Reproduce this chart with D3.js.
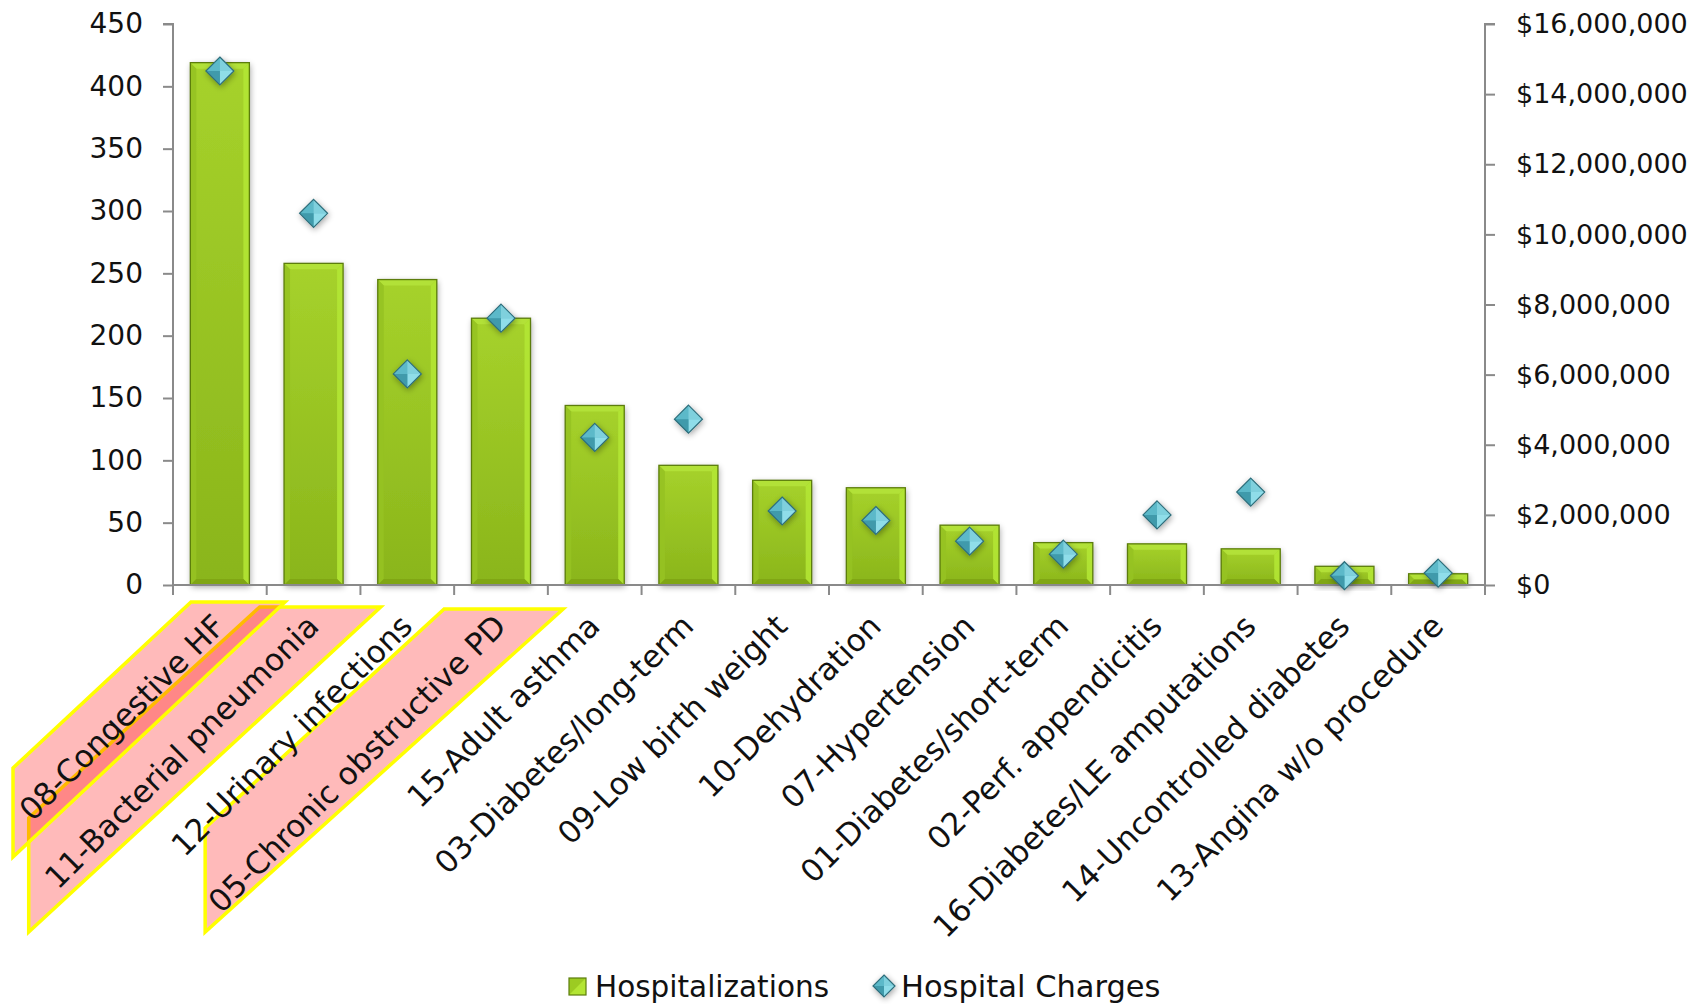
<!DOCTYPE html>
<html>
<head>
<meta charset="utf-8">
<script src="https://cdn.jsdelivr.net/npm/d3@7"></script>
<style>
  html, body { margin: 0; padding: 0; background: #ffffff; }
  svg { display: block; }
  text { font-family: "DejaVu Sans", sans-serif; fill: #111; }
</style>
</head>
<body>
<svg id="chart" width="1706" height="1004"></svg>
<script>
// ---------------- DATA ----------------
const categories = [
  "08-Congestive HF", "11-Bacterial pneumonia", "12-Urinary infections",
  "05-Chronic obstructive PD", "15-Adult asthma", "03-Diabetes/long-term",
  "09-Low birth weight", "10-Dehydration", "07-Hypertension",
  "01-Diabetes/short-term", "02-Perf. appendicitis", "16-Diabetes/LE amputations",
  "14-Uncontrolled diabetes", "13-Angina w/o procedure"
];
const hospitalizations = [419, 258, 245, 214, 144, 96, 84, 78, 48, 34, 33, 29, 15, 9];
const hospitalCharges = [14660000, 10600000, 6020000, 7610000, 4210000, 4730000, 2110000,
                         1840000, 1250000, 880000, 2000000, 2650000, 265000, 340000];
const leftTicks = [0, 50, 100, 150, 200, 250, 300, 350, 400, 450];
const rightTicks = [0, 2000000, 4000000, 6000000, 8000000, 10000000, 12000000, 14000000, 16000000];
const seriesNames = ["Hospitalizations", "Hospital Charges"];
const highlightedCategories = ["11-Bacterial pneumonia", "05-Chronic obstructive PD", "08-Congestive HF"];

// ---------------- LAYOUT ----------------
const svg = d3.select("#chart");
const plot = { left: 173, right: 1485, top: 24, bottom: 585 };

const x = d3.scaleBand().domain(categories).range([plot.left, plot.right]).padding(0);
const yL = d3.scaleLinear().domain([0, 450]).range([plot.bottom, plot.top]);
const yR = d3.scaleLinear().domain([0, 16000000]).range([plot.bottom, plot.top]);
const barW = x.bandwidth() * 0.63;

const defs = svg.append("defs");
const barGrad = defs.append("linearGradient").attr("id", "barGrad")
  .attr("x1", 0).attr("y1", 0).attr("x2", 0).attr("y2", 1);
barGrad.append("stop").attr("offset", "0%").attr("stop-color", "#a6d22b");
barGrad.append("stop").attr("offset", "100%").attr("stop-color", "#8ab51b");

const shadow = defs.append("filter").attr("id", "shadow")
  .attr("x", "-30%").attr("y", "-30%").attr("width", "160%").attr("height", "160%");
shadow.append("feGaussianBlur").attr("in", "SourceAlpha").attr("stdDeviation", 3).attr("result", "b");
shadow.append("feOffset").attr("in", "b").attr("dx", 1).attr("dy", 2).attr("result", "o");
shadow.append("feComponentTransfer").attr("in", "o").attr("result", "s")
  .append("feFuncA").attr("type", "linear").attr("slope", 0.35);
const merge = shadow.append("feMerge");
merge.append("feMergeNode").attr("in", "s");
merge.append("feMergeNode").attr("in", "SourceGraphic");

// ---------------- HIGHLIGHT SHAPES (annotation) ----------------
const shapeGeom = {
  "08-Congestive HF":        { tl: 18,  tr: 112, lx: -160, top: 602, corner: 768, bottom: 857 },
  "11-Bacterial pneumonia":  { tl: -7,  tr: 114, lx: -238, top: 607, corner: 818, bottom: 932 },
  "05-Chronic obstructive PD": { tl: -10, tr: 109, lx: -249, top: 609, corner: 828, bottom: 932 }
};
const gHi = svg.append("g");
highlightedCategories.forEach(c => {
  const g = shapeGeom[c];
  const x0 = x(c);
  const pts = [[x0 + g.tl, g.top], [x0 + g.tr, g.top], [x0 + g.lx, g.bottom], [x0 + g.lx, g.corner]];
  gHi.append("polygon")
    .attr("points", pts.map(p => p.join(",")).join(" "))
    .attr("fill", "rgba(255,0,0,0.27)")
    .attr("stroke", "#ffff00")
    .attr("stroke-width", 3.5)
    .attr("stroke-linejoin", "miter");
});

// ---------------- BARS ----------------
const gBars = svg.append("g");
const bev = 6;
hospitalizations.forEach((v, i) => {
  const cx = x(categories[i]) + x.bandwidth() / 2;
  const x1 = cx - barW / 2, x2 = cx + barW / 2;
  const y1 = yL(v), y2 = yL(0);
  const g = gBars.append("g");
  g.append("rect").attr("x", x1).attr("y", y1).attr("width", barW).attr("height", y2 - y1)
    .attr("fill", "url(#barGrad)").attr("filter", "url(#shadow)");
  const b = Math.min(bev, (y2 - y1) / 2);
  const facets = [
    { p: [[x1, y1], [x2, y1], [x2 - b, y1 + b], [x1 + b, y1 + b]], c: "#b4e23a" },
    { p: [[x2, y1], [x2, y2], [x2 - b, y2 - b], [x2 - b, y1 + b]], c: "#b3e534" },
    { p: [[x1, y1], [x1 + b, y1 + b], [x1 + b, y2 - b], [x1, y2]], c: "#96c222" },
    { p: [[x1, y2], [x1 + b, y2 - b], [x2 - b, y2 - b], [x2, y2]], c: "#7ea414" }
  ];
  facets.forEach(f => g.append("polygon").attr("points", f.p.map(p => p.join(",")).join(" "))
    .attr("fill", f.c).attr("opacity", 0.9));
  g.append("rect").attr("x", x1).attr("y", y1).attr("width", barW).attr("height", y2 - y1)
    .attr("fill", "none").attr("stroke", "#5c7d0c").attr("stroke-width", 1.3);
});

// ---------------- AXES ----------------
const axisColor = "#8a8a8a";
const gAxes = svg.append("g");
const axL = d3.axisLeft(yL).tickValues(leftTicks).tickSize(10).tickPadding(20).tickFormat(d3.format("d"));
const axR = d3.axisRight(yR).tickValues(rightTicks).tickSize(10).tickPadding(21)
  .tickFormat(d => "$" + d3.format(",")(d));
const axB = d3.axisBottom(x).tickSize(10).tickFormat("");

function styleAxis(sel, fs) {
  sel.select(".domain").attr("stroke", axisColor).attr("stroke-width", 2);
  sel.selectAll(".tick line").attr("stroke", axisColor).attr("stroke-width", 2);
  sel.selectAll(".tick text").attr("font-size", fs).attr("fill", "#111")
    .attr("font-family", "DejaVu Sans, sans-serif");
}
const gl = gAxes.append("g").attr("transform", `translate(${plot.left},0)`).call(axL);
styleAxis(gl, 28);
gl.select(".domain").attr("d", `M-10,${plot.top}H0V${plot.bottom + 10}`);
const gr = gAxes.append("g").attr("transform", `translate(${plot.right},0)`).call(axR);
styleAxis(gr, 27);
gr.select(".domain").attr("d", `M10,${plot.top}H0V${plot.bottom + 10}`);
const gb = gAxes.append("g").attr("transform", `translate(0,${plot.bottom})`).call(axB);
styleAxis(gb, 27);
gb.select(".domain").attr("d", `M${plot.left},0H${plot.right}`);
// ticks at band boundaries
gb.selectAll(".tick").remove();
const bounds = categories.map(c => x(c)).concat([plot.right]);
gb.selectAll("line.bt").data(bounds).enter().append("line")
  .attr("x1", d => d).attr("x2", d => d).attr("y1", 0).attr("y2", 10)
  .attr("stroke", axisColor).attr("stroke-width", 2);

// ---------------- CATEGORY LABELS ----------------
const gLab = svg.append("g");
categories.forEach(c => {
  const cx = x(c) + x.bandwidth() / 2;
  gLab.append("text")
    .attr("transform", `translate(${cx + 7},628) rotate(-45)`)
    .attr("text-anchor", "end")
    .attr("font-size", 31)
    .text(c);
});

// ---------------- DIAMONDS ----------------
function diamond(g, cx, cy, r) {
  const T = [cx, cy - r], R = [cx + r, cy], B = [cx, cy + r], L = [cx - r, cy], C = [cx, cy];
  const grp = g.append("g").attr("filter", "url(#shadow)");
  grp.append("polygon").attr("points", [T, R, B, L].map(p => p.join(",")).join(" ")).attr("fill", "#55b2c2");
  const facets = [
    { p: [L, T, C], c: "#5bb9c9" },
    { p: [T, R, C], c: "#7fd0dd" },
    { p: [R, B, C], c: "#8fdde9" },
    { p: [B, L, C], c: "#3f9aab" }
  ];
  facets.forEach(f => grp.append("polygon").attr("points", f.p.map(p => p.join(",")).join(" ")).attr("fill", f.c));
  grp.append("polygon").attr("points", [T, R, B, L].map(p => p.join(",")).join(" "))
    .attr("fill", "none").attr("stroke", "#2f6e7b").attr("stroke-width", 1.2);
}
const gDia = svg.append("g");
hospitalCharges.forEach((v, i) => {
  const cx = x(categories[i]) + x.bandwidth() / 2;
  diamond(gDia, cx, yR(v), 14);
});

// ---------------- LEGEND ----------------
const gLeg = svg.append("g");
(function () {
  const x1 = 569, y1 = 978, s = 17;
  gLeg.append("rect").attr("x", x1).attr("y", y1).attr("width", s).attr("height", s).attr("fill", "#9ccb22");
  gLeg.append("polygon").attr("points", `${x1 + s},${y1} ${x1 + s},${y1 + s} ${x1},${y1 + s}`).attr("fill", "#b3e534");
  gLeg.append("rect").attr("x", x1).attr("y", y1).attr("width", s).attr("height", s)
    .attr("fill", "none").attr("stroke", "#5c7d0c").attr("stroke-width", 1.2);
})();
gLeg.append("text").attr("x", 595).attr("y", 997).attr("font-size", 29.5).text(seriesNames[0]);
diamond(gLeg, 884, 986, 11);
gLeg.append("text").attr("x", 901).attr("y", 997).attr("font-size", 30.5).text(seriesNames[1]);
</script>
</body>
</html>
